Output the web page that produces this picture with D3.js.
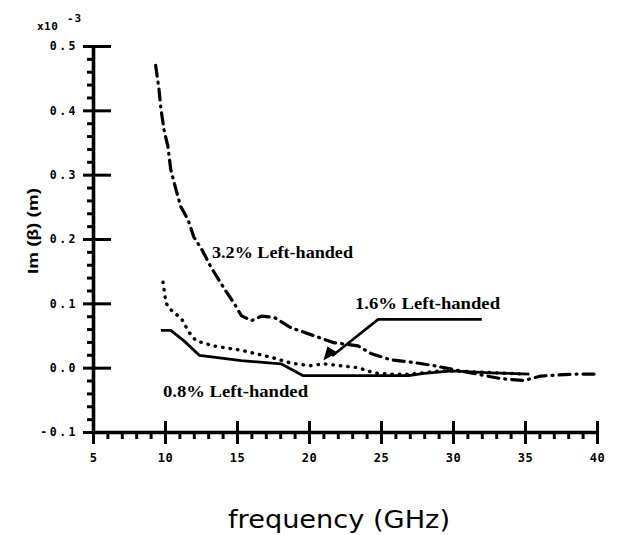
<!DOCTYPE html>
<html><head><meta charset="utf-8">
<script src="https://cdn.jsdelivr.net/npm/d3@7/dist/d3.min.js"></script>
<style>body{margin:0;background:#fff}svg{display:block}</style>
</head><body>
<script>
// ---- data (Im(beta) in units of 1e-3 m) ----
const xTicks = [5,10,15,20,25,30,35,40];
const yTicks = [-0.1,0.0,0.1,0.2,0.3,0.4,0.5];
const yTickLabels = ["-0.1","0.0","0.1","0.2","0.3","0.4","0.5"];

const f32 = [9.35,9.58,9.72,9.93,10.2,10.4,10.76,11.1,11.6,12.0,12.5,13.2,13.75,14.2,14.8,15.3,16.0,16.7,17.6,18.75,20.3,21.7,23.4,24.3,25.7,27.3,28.7,30.5,33.3,34.9,36.1,38.4,39.8];
const v32 = [0.47,0.433,0.402,0.37,0.344,0.308,0.277,0.25,0.23,0.203,0.186,0.156,0.136,0.12,0.1,0.081,0.073,0.08,0.078,0.062,0.05,0.039,0.034,0.022,0.012,0.008,0.003,-0.005,-0.017,-0.02,-0.013,-0.01,-0.01];

const f16 = [9.86,10.07,10.56,11.1,11.67,12.15,13.3,15.3,17.4,18.75,20.1,21.0,23.4,24.5,25.7,27.0,29.2,31,33,35];
const v16 = [0.133,0.10,0.086,0.078,0.055,0.042,0.034,0.027,0.016,0.007,0.003,0.006,0.0,-0.008,-0.01,-0.01,-0.005,-0.006,-0.008,-0.01];

const f08 = [9.72,10.4,11.3,12.4,15.3,18.05,19.6,26.9,28.0,29.9,32.6,35.3];
const v08 = [0.058,0.058,0.042,0.019,0.011,0.006,-0.0125,-0.0125,-0.009,-0.005,-0.008,-0.01];

const labels = ["3.2% Left-handed","1.6% Left-handed","0.8% Left-handed"];

// ---- drawing ----
const W=626,H=535;
const svg=d3.select("body").append("svg").attr("width",W).attr("height",H);
const x=d3.scaleLinear().domain([5,40]).range([93,597]);
const y=d3.scaleLinear().domain([-0.1,0.5]).range([432,46]);

const tickFont="'DejaVu Sans Mono', monospace";

// x axis minor
const xMinor=d3.range(5,40.001,1).filter(v=>v%5!==0);
const gxm=svg.append("g").attr("transform",`translate(0,${y(-0.1)})`);
gxm.call(d3.axisBottom(x).tickValues(xMinor).tickSize(7).tickFormat(""));
gxm.select(".domain").remove();
gxm.selectAll(".tick line").attr("stroke","#000").attr("stroke-width",3);

// x axis major
const gx=svg.append("g").attr("transform",`translate(0,${y(-0.1)})`);
gx.call(d3.axisBottom(x).tickValues(xTicks).tickSizeInner(12).tickSizeOuter(0).tickPadding(9).tickFormat(d3.format("d")));
gx.select(".domain").attr("stroke","#000").attr("stroke-width",3.6);
gx.selectAll(".tick line").attr("y1",-11).attr("y2",12).attr("stroke","#000").attr("stroke-width",3);
gx.selectAll(".tick text").attr("font-family",tickFont).attr("font-weight","bold").attr("font-size",12)
  .attr("letter-spacing","0.5px").attr("fill","#000");

// y axis minor
const yMinor=d3.range(-0.1,0.5001,0.02).filter(v=>Math.abs(Math.round(v*10)-v*10)>0.01);
const gym=svg.append("g").attr("transform",`translate(${x(5)},0)`);
gym.call(d3.axisLeft(y).tickValues(yMinor).tickSize(6).tickFormat(""));
gym.select(".domain").remove();
gym.selectAll(".tick line").attr("stroke","#000").attr("stroke-width",3);

// y axis major
const gy=svg.append("g").attr("transform",`translate(${x(5)},0)`);
gy.call(d3.axisLeft(y).tickValues(yTicks).tickSizeInner(10).tickSizeOuter(0).tickPadding(5)
     .tickFormat((d,i)=>yTickLabels[i]));
gy.select(".domain").attr("stroke","#000").attr("stroke-width",3.6);
gy.selectAll(".tick line").attr("x1",-10).attr("x2",18).attr("stroke","#000").attr("stroke-width",3);
gy.selectAll(".tick text").attr("font-family",tickFont).attr("font-weight","bold").attr("font-size",11.5)
  .attr("letter-spacing","2.5px").attr("fill","#000");

// exponent label
svg.append("text").attr("x",37).attr("y",30).attr("font-family",tickFont).attr("font-weight","bold")
  .attr("font-size",11).attr("letter-spacing","0.5px").text("x10");
svg.append("text").attr("x",67).attr("y",22).attr("font-family",tickFont).attr("font-weight","bold")
  .attr("font-size",11).attr("letter-spacing","1px").text("-3");

// axis titles
svg.append("text").attr("transform","translate(38,231) rotate(-90)").attr("text-anchor","middle")
  .attr("font-family","'Liberation Sans', Arial, sans-serif").attr("font-weight","bold").attr("font-size",15)
  .attr("textLength",86).attr("lengthAdjust","spacingAndGlyphs").text("Im (β) (m)");
svg.append("text").attr("x",339).attr("y",528).attr("text-anchor","middle")
  .attr("font-family","'DejaVu Sans', sans-serif").attr("font-size",24)
  .attr("textLength",222).attr("lengthAdjust","spacingAndGlyphs").text("frequency (GHz)");

// curves
const line=d3.line().x(d=>x(d[0])).y(d=>y(d[1])).curve(d3.curveLinear);
const mk=(fs,vs)=>fs.map((f,i)=>[f,vs[i]]);
svg.append("path").datum(mk(f32,v32)).attr("d",line).attr("fill","none").attr("stroke","#000")
  .attr("stroke-width",3.2).attr("stroke-dasharray","11,6,1,6").attr("stroke-linecap","round");
svg.append("path").datum(mk(f16,v16)).attr("d",line).attr("fill","none").attr("stroke","#000")
  .attr("stroke-width",3.4).attr("stroke-dasharray","0.5,7").attr("stroke-linecap","round");
svg.append("path").datum(mk(f08,v08)).attr("d",line).attr("fill","none").attr("stroke","#000")
  .attr("stroke-width",2.8).attr("stroke-linejoin","round");

// annotation labels
const serif="'Liberation Serif', 'Times New Roman', serif";
const lab=[[212,258,141],[355,309,145],[163,397,145]];
labels.forEach((t,i)=>{
  svg.append("text").attr("x",lab[i][0]).attr("y",lab[i][1]).attr("font-family",serif).attr("font-weight","bold")
    .attr("font-size",16).attr("textLength",lab[i][2]).attr("lengthAdjust","spacingAndGlyphs").text(t);
});

// arrow for 1.6%
svg.append("path").attr("d",`M${x(32.0)},${y(0.075)} L${x(24.8)},${y(0.075)} L${x(21.6)},${y(0.018)}`)
  .attr("fill","none").attr("stroke","#000").attr("stroke-width",2.6);
const tip=[x(21.0),y(0.011)];
svg.append("path").attr("d",`M${tip[0]},${tip[1]} L${tip[0]+4},${tip[1]-14} L${tip[0]+14},${tip[1]-8} Z`).attr("fill","#000");
</script>
</body></html>
